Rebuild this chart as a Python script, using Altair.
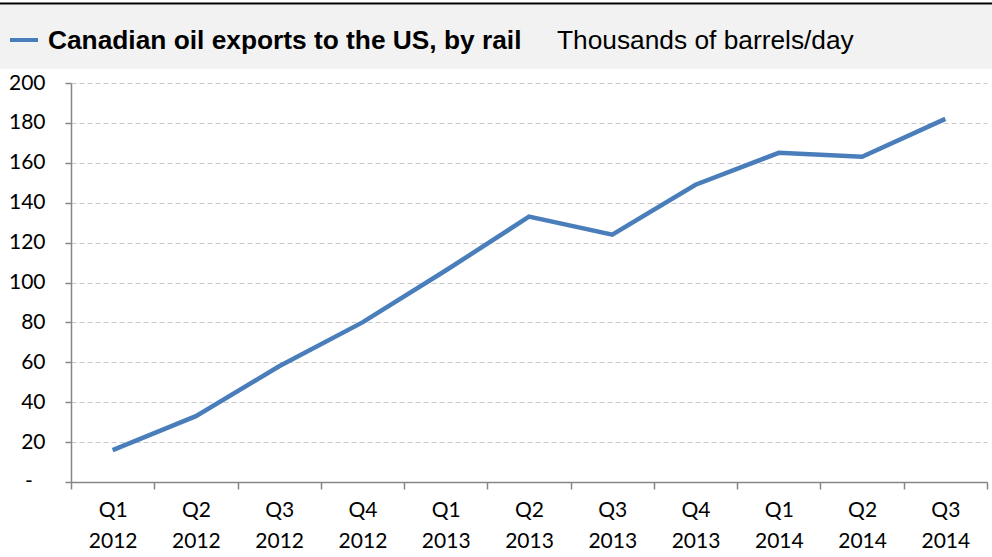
import altair as alt
import pandas as pd

quarters = ["Q1 2012", "Q2 2012", "Q3 2012", "Q4 2012", "Q1 2013", "Q2 2013",
            "Q3 2013", "Q4 2013", "Q1 2014", "Q2 2014", "Q3 2014"]
exports = [16, 33, 58, 80, 106, 133, 124, 149, 165, 163, 182]

title_main = "Canadian oil exports to the US, by rail"
title_unit = "Thousands of barrels/day"
zero_label = "-"

df = pd.DataFrame({"quarter": quarters, "value": exports})
one = pd.DataFrame({"a": [0]})
zero_df = pd.DataFrame({"value": [0], "label": [zero_label]})

BLUE = "#4a7ebb"
AXIS = "#868686"
FONT = "Lato"

W, H = 916, 399
PL, PT = 71, 83

x_enc = alt.X(
    "quarter:N", sort=quarters, bandPosition=0.5,
    scale=alt.Scale(type="band", paddingInner=0, paddingOuter=0),
    axis=alt.Axis(
        title=None, tickBand="extent", labelExpr="split(datum.label, ' ')",
        labelFont=FONT, labelFontSize=21, labelColor="#000000",
        labelLineHeight=31, labelPadding=10, labelAngle=0,
        domainColor=AXIS, tickColor=AXIS, tickSize=7, tickWidth=1.5,
        domainWidth=1.5, grid=False,
    ),
)
y_scale = alt.Scale(domain=[0, 200], nice=False)
y_enc = alt.Y(
    "value:Q",
    scale=y_scale,
    axis=alt.Axis(
        title=None, values=list(range(0, 201, 20)),
        labelExpr="datum.value == 0 ? '' : datum.label",
        labelFont=FONT, labelFontSize=21, labelColor="#000000",
        labelPadding=20, domainColor=AXIS, tickColor=AXIS, tickSize=6,
        tickWidth=1.5, domainWidth=1.5,
        grid=True, gridColor="#c8c8c8", gridDash=[5, 3], gridWidth=1.2,
    ),
)

line = alt.Chart(df).mark_line(color=BLUE, strokeWidth=4.5, strokeJoin="miter").encode(
    x=x_enc, y=y_enc
)

zero_text = alt.Chart(zero_df).mark_text(
    align="center", baseline="middle", font=FONT, fontSize=21, color="#000000"
).encode(
    x=alt.value(29 - PL),
    y=y_enc,
    text="label:N",
)

band = alt.Chart(one).mark_rect(color="#f2f2f2").encode(
    x=alt.value(-PL), x2=alt.value(992 - PL), y=alt.value(5 - PT), y2=alt.value(69 - PT)
)
topline = alt.Chart(one).mark_rule(color="#000000", strokeWidth=2).encode(
    x=alt.value(-PL), x2=alt.value(992 - PL), y=alt.value(3.5 - PT)
)
legend_line = alt.Chart(one).mark_rule(color=BLUE, strokeWidth=4).encode(
    x=alt.value(10 - PL), x2=alt.value(38 - PL), y=alt.value(40 - PT)
)
t_main = alt.Chart(one).mark_text(
    text=title_main, align="left", baseline="alphabetic", font="Liberation Sans",
    fontSize=26.3, fontWeight="bold", color="#000000"
).encode(x=alt.value(48 - PL), y=alt.value(49 - PT))
t_unit = alt.Chart(one).mark_text(
    text=title_unit, align="left", baseline="alphabetic", font="Liberation Sans",
    fontSize=26.3, color="#000000"
).encode(x=alt.value(557 - PL), y=alt.value(49 - PT))

chart = alt.layer(band, topline, legend_line, t_main, t_unit, line, zero_text).properties(
    width=W, height=H,
    autosize=alt.AutoSizeParams(type="none"),
    padding={"left": PL, "top": PT, "right": 992 - PL - W, "bottom": 557 - PT - H},
    background="#ffffff",
).configure_view(stroke=None)

chart.save("out.html", embed_options={"renderer": "svg", "actions": False})
